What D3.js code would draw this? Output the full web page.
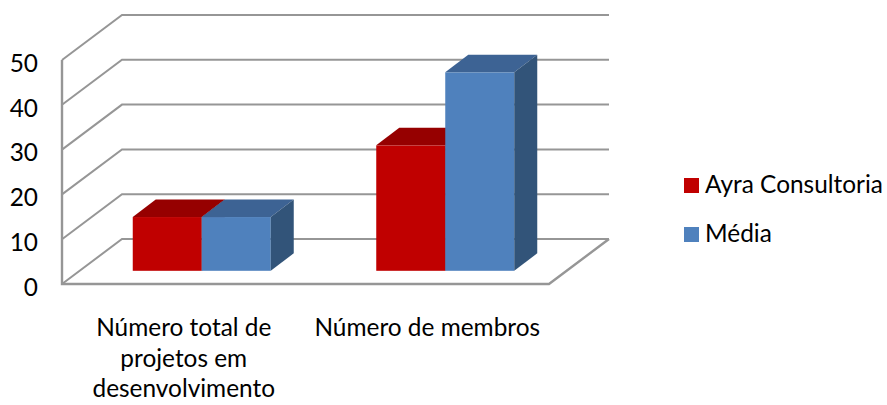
<!DOCTYPE html>
<html>
<head>
<meta charset="utf-8">
<script src="https://cdn.jsdelivr.net/npm/d3@7"></script>
<style>
  html, body { margin: 0; padding: 0; background: #fff; }
  svg { display: block; }
  text { font-family: Lato, sans-serif; fill: #000; }
</style>
</head>
<body>
<div class="canvas"></div>
<script>
const categories = ["Número total de projetos em desenvolvimento", "Número de membros"]
const categoryLines = [["Número total de", "projetos em", "desenvolvimento"], ["Número de membros"]]
const seriesNames = ["Ayra Consultoria", "Média"]
const ayra = [12, 28]
const media = [12, 44.3]
const yTicks = [0, 10, 20, 30, 40, 50]
const seriesValues = [ayra, media]

const faceColors = [
  { front: "#c00000", top: "#960000", side: "#7f0000" },
  { front: "#4f81bd", top: "#3d6394", side: "#325479" }
]
const gridColor = "#969696"

const svg = d3.select(".canvas")
  .append("svg")
    .attr("width", 887)
    .attr("height", 405)

// floor and wall depth of the fake 3d box
const wallDx = 60
const wallDy = -45
// where the bars stand on the floor and how deep they are
const standDx = 18
const standDy = -13.2
const barDx = 23
const barDy = -17.5

const y = d3.scaleLinear()
  .domain([0, 50])
  .range([284, 60])

const floorLeft = 62
const floorRight = 549

const x = d3.scaleBand()
  .domain(categories)
  .range([floorLeft + standDx, floorRight + standDx])

const groupWidth = 138
const xInner = d3.scaleBand()
  .domain(seriesNames)
  .range([0, groupWidth])

const grid = svg.append("g")
  .attr("fill", "none")
  .attr("stroke", gridColor)
  .attr("stroke-width", 2)

grid.selectAll("path.tick")
  .data(yTicks)
  .enter()
  .append("path")
    .attr("class", "tick")
    .attr("d", d => `M${floorLeft},${y(d)}L${floorLeft + wallDx},${y(d) + wallDy}L${floorRight + wallDx},${y(d) + wallDy}`)

// left wall edge, front floor edge, right floor edge
grid.append("path")
  .attr("stroke-width", 2.4)
  .attr("d", `M${floorLeft},${y(50)}L${floorLeft},${y(0)}L${floorRight},${y(0)}L${floorRight + wallDx},${y(0) + wallDy}`)

const bars = categories.flatMap((c, i) => seriesNames.map((s, j) => ({
  category: c,
  series: s,
  value: seriesValues[j][i],
  colors: faceColors[j]
})))

const barGroups = svg.selectAll("g.bar")
  .data(bars)
  .enter()
  .append("g")
    .attr("class", "bar")
    .attr("transform", d => {
      const left = x(d.category) + (x.bandwidth() - groupWidth) / 2 + xInner(d.series)
      return `translate(${left}, ${standDy})`
    })

const w = xInner.bandwidth()

barGroups.append("rect")
  .attr("width", w)
  .attr("height", d => y(0) - y(d.value))
  .attr("y", d => y(d.value))
  .attr("fill", d => d.colors.front)

barGroups.append("path")
  .attr("fill", d => d.colors.top)
  .attr("d", d => `M0,${y(d.value)}l${barDx},${barDy}h${w}l${-barDx},${-barDy}Z`)

barGroups.append("path")
  .attr("fill", d => d.colors.side)
  .attr("d", d => `M${w},${y(d.value)}l${barDx},${barDy}V${y(0) + barDy}l${-barDx},${-barDy}Z`)

const fontSize = 24.4

const yAxis = d3.axisLeft(y)
  .tickValues(yTicks)
  .tickSize(0)
  .tickPadding(0)

svg.append("g")
  .attr("transform", "translate(38, 3.5)")
  .call(yAxis)
  .call(g => g.select(".domain").remove())
  .selectAll("text")
    .attr("font-size", fontSize)
    .style("font-family", "Lato, sans-serif")

const xAxis = d3.axisBottom(x)
  .tickSize(0)
  .tickFormat("")

const xAxisGroup = svg.append("g")
  .attr("transform", `translate(${-standDx}, 336)`)
  .call(xAxis)
  .call(g => g.select(".domain").remove())

xAxisGroup.selectAll(".tick text")
  .attr("y", 0)
  .attr("dy", 0)
  .attr("font-size", fontSize)
  .style("font-family", "Lato, sans-serif")
  .each(function (d, i) {
    d3.select(this).selectAll("tspan")
      .data(categoryLines[i])
      .enter()
      .append("tspan")
        .attr("x", 0)
        .attr("y", (l, k) => k * 30.5)
        .text(l => l)
  })

const legendY = d3.scalePoint()
  .domain(seriesNames)
  .range([193, 242])

const legend = svg.selectAll("g.legend")
  .data(seriesNames)
  .enter()
  .append("g")
    .attr("class", "legend")
    .attr("transform", d => `translate(684, ${legendY(d)})`)

legend.append("rect")
  .attr("y", -15)
  .attr("width", 15)
  .attr("height", 15)
  .attr("fill", (d, i) => faceColors[i].front)

legend.append("text")
  .attr("x", 21)
  .attr("font-size", fontSize)
  .text(d => d)
</script>
</body>
</html>
